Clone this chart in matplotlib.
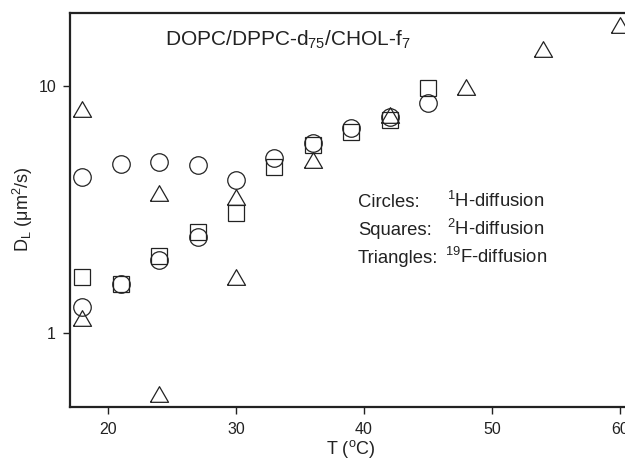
import matplotlib
matplotlib.use('Agg')
import matplotlib.pyplot as plt

plt.rcParams['font.family'] = ['Liberation Sans', 'DejaVu Sans']
plt.rcParams['mathtext.fontset'] = 'custom'
plt.rcParams['mathtext.rm'] = 'Liberation Sans'
plt.rcParams['mathtext.it'] = 'Liberation Sans:italic'
plt.rcParams['mathtext.default'] = 'regular'

# 1H diffusion (circles)
t_circles = [18, 18, 21, 21, 24, 24, 27, 27, 30, 33, 36, 39, 42, 45]
d_circles = [4.31, 1.28, 4.85, 1.59, 4.95, 1.98, 4.81, 2.46, 4.17, 5.11, 5.88, 6.76, 7.53, 8.53]

# 2H diffusion (squares)
t_squares = [18, 21, 24, 27, 30, 33, 36, 39, 42, 45]
d_squares = [1.69, 1.59, 2.06, 2.58, 3.06, 4.70, 5.80, 6.56, 7.33, 9.87]

# 19F diffusion (triangles)
t_triangles = [18, 18, 24, 24, 30, 30, 36, 42, 48, 54, 60]
d_triangles = [8.06, 1.15, 3.69, 0.568, 3.57, 1.69, 5.03, 7.65, 9.95, 14.1, 17.7]

W, H = 625, 465
fig = plt.figure(figsize=(W / 100, H / 100), dpi=100)
ax = fig.add_axes([70 / W, 58 / H, 555 / W, 394 / H])

tri = [(-1, -0.866), (1, -0.866), (0, 0.866), (-1, -0.866)]
ec = '#222222'
ax.plot(t_circles, d_circles, linestyle='none', marker='o', markersize=12.6,
        markerfacecolor='none', markeredgecolor=ec, markeredgewidth=0.9)
ax.plot(t_squares, d_squares, linestyle='none', marker='s', markersize=11.3,
        markerfacecolor='none', markeredgecolor=ec, markeredgewidth=0.9)
ax.plot(t_triangles, d_triangles, linestyle='none', marker=tri, markersize=13,
        markerfacecolor='none', markeredgecolor=ec, markeredgewidth=0.9)

ax.set_yscale('log')
ax.set_xlim(17.03, 60.4)
ax.set_ylim(0.503, 19.8)
ax.set_xticks([20, 30, 40, 50, 60])
ax.set_yticks([1, 10])
ax.set_yticklabels(['1', '10'])
ax.yaxis.set_minor_locator(matplotlib.ticker.NullLocator())
ax.tick_params(direction='out', length=5, width=1, labelsize=11.5, colors='#222222', pad=5)
ax.tick_params(axis='x', pad=6)

for s in ['left', 'bottom', 'top']:
    ax.spines[s].set_linewidth(1.6)
    ax.spines[s].set_color('#222222')
ax.spines['right'].set_visible(False)

def fx(px):
    return px / W

def fy(py):
    return 1 - py / H

txt = dict(color='#222222', va='baseline', ha='left')
fig.text(fx(165), fy(46), r'DOPC/DPPC-d$_{75}$/CHOL-f$_{7}$', fontsize=15, **txt)

fig.text(fx(358), fy(207), 'Circles:', fontsize=13.3, **txt)
fig.text(fx(447), fy(207), r'$^{1}$H-diffusion', fontsize=13.3, **txt)
fig.text(fx(358), fy(235), 'Squares:', fontsize=13.3, **txt)
fig.text(fx(447), fy(235), r'$^{2}$H-diffusion', fontsize=13.3, **txt)
fig.text(fx(358), fy(263), 'Triangles:', fontsize=13.3, **txt)
fig.text(fx(445), fy(263), r'$^{19}$F-diffusion', fontsize=13.3, **txt)

fig.text(fx(351), fy(454), r'T ($^{o}$C)', fontsize=13, color='#222222', ha='center', va='baseline')
fig.text(fx(23), fy(209), r'D$_{L}$ (μm$^{2}$/s)', fontsize=13, color='#222222',
         rotation=90, ha='center', va='center')

fig.savefig('out.png', dpi=100)
